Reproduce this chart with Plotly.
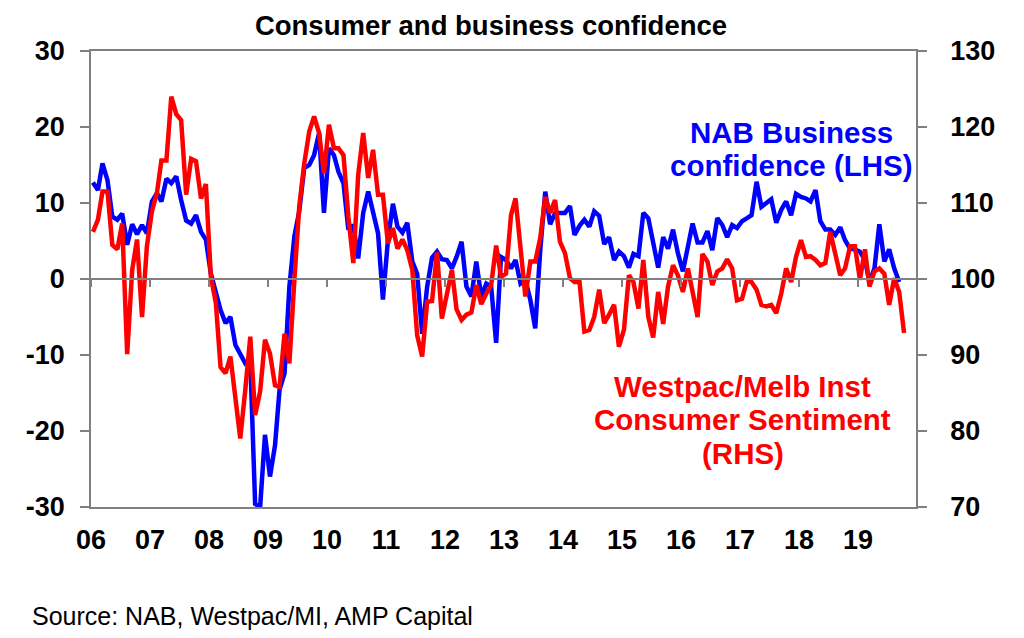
import pandas as pd
import plotly.graph_objects as go

# NAB business confidence (LHS), monthly Jan 2006 - Sep 2019
nab_conf = [
    12.7, 11.7, 15.2, 13.0, 8.2, 7.8, 8.6, 4.5, 7.2, 5.9, 7.1, 6.0,          # 2006
    10.2, 11.3, 10.2, 13.2, 12.6, 13.5, 10.4, 7.7, 7.3, 8.4, 6.2, 5.2,       # 2007
    0.7, -1.9, -4.1, -5.8, -5.0, -8.7, -10.0, -11.1, -10.7, -29.6, -30.0, -20.5,  # 2008
    -26.0, -21.9, -14.6, -12.4, -1.0, 5.6, 8.9, 14.6, 15.0, 16.3, 19.2, 8.7,  # 2009
    17.2, 16.3, 14.1, 12.6, 6.5, 7.1, 2.7, 8.7, 11.5, 8.9, 6.0, -2.7,        # 2010
    5.1, 9.9, 6.9, 6.1, 7.4, 2.3, 0.7, -7.2, -1.0, 2.8, 3.6, 2.6,            # 2011
    2.5, 1.4, 2.9, 4.9, -1.0, -2.3, 2.3, -2.3, -0.6, -1.0, -8.4, 2.9,        # 2012
    2.5, 1.4, 2.5, -0.6, -0.1, -2.8, -6.5, 3.8, 11.5, 7.2, 8.7, 8.7,         # 2013
    8.7, 9.6, 5.8, 7.0, 7.8, 6.9, 8.9, 8.3, 4.6, 5.5, 2.5, 3.6,              # 2014
    3.0, 1.5, 3.3, 3.0, 8.7, 8.0, 4.5, 1.5, 5.5, 4.0, 6.5, 3.4,              # 2015
    1.0, 4.3, 7.3, 4.8, 4.8, 6.3, 3.8, 8.0, 7.1, 5.5, 7.1, 6.7,              # 2016
    7.6, 8.0, 8.4, 12.8, 9.5, 10.0, 10.5, 7.4, 9.1, 10.2, 8.4, 11.2,         # 2017
    10.8, 10.6, 10.2, 11.7, 7.6, 6.5, 6.5, 5.8, 6.8, 5.1, 4.0, 3.9,          # 2018
    3.6, 2.5, -0.4, 1.4, 7.2, 2.3, 3.9, 1.4, -0.4,                           # 2019
]

# Westpac/Melbourne Institute consumer sentiment index (RHS), Jan 2006 - Oct 2019
wbc_sent = [
    106.2, 107.8, 111.5, 111.5, 104.5, 103.9, 107.3, 90.1, 101.2, 105.2, 95.0, 104.3,
    108.9, 111.3, 115.6, 115.6, 124.0, 121.7, 120.9, 111.1, 115.8, 115.5, 110.6, 112.5,
    100.3, 96.8, 88.4, 87.6, 89.8, 84.5, 79.0, 85.4, 92.4, 82.1, 85.2, 92.0,
    90.2, 86.0, 85.8, 92.8, 88.9, 99.9, 109.5, 115.2, 119.4, 121.4, 119.2, 113.9,
    120.3, 117.2, 117.2, 116.3, 108.2, 102.1, 113.7, 119.2, 113.3, 117.0, 111.1, 111.1,
    104.7, 106.7, 104.0, 105.2, 103.8, 101.2, 92.6, 89.8, 97.0, 97.1, 103.5, 94.8,
    97.7, 101.2, 96.0, 94.6, 95.3, 95.6, 99.2, 96.7, 98.1, 99.2, 104.4, 100.3,
    100.7, 108.4, 110.6, 104.3, 97.7, 102.3, 102.3, 105.4, 110.8, 108.7, 110.4, 104.9,
    103.4, 100.1, 99.6, 99.6, 93.1, 93.3, 95.0, 98.6, 94.2, 95.3, 96.6, 91.1,
    93.3, 100.5, 99.6, 96.1, 102.5, 95.0, 92.3, 98.3, 94.1, 99.0, 101.8, 100.5,
    98.3, 101.4, 98.5, 95.0, 103.3, 102.3, 99.2, 101.0, 101.4, 102.6, 101.4, 97.2,
    97.4, 99.8, 99.6, 98.6, 96.6, 96.4, 96.6, 95.5, 98.1, 101.4, 99.6, 102.9,
    105.1, 102.9, 103.0, 102.5, 101.8, 102.1, 106.2, 103.6, 100.5, 101.4, 104.3, 104.3,
    99.9, 103.9, 99.0, 101.0, 101.4, 100.7, 96.6, 100.1, 98.3, 92.9,
]

year_labels = ["06", "07", "08", "09", "10", "11", "12", "13", "14", "15", "16", "17", "18", "19"]
lhs_ticks = [-30, -20, -10, 0, 10, 20, 30]
lhs_labels = ["-30", "-20", "-10", "0", "10", "20", "30"]
rhs_ticks = [70, 80, 90, 100, 110, 120, 130]

nab_label = ["NAB Business", "confidence (LHS)"]
wbc_label = ["Westpac/Melb Inst", "Consumer Sentiment", "(RHS)"]

nab_dates = pd.date_range("2006-01-01", periods=len(nab_conf), freq="MS") + pd.Timedelta(days=12)
wbc_dates = pd.date_range("2006-01-01", periods=len(wbc_sent), freq="MS") + pd.Timedelta(days=12)
year_ticks = pd.date_range("2006-01-01", periods=len(year_labels), freq="YS")
x_range = ["2006-01-01", "2019-12-26"]

FONT = "Arial, Liberation Sans, sans-serif"
AXIS_GREY = "#808080"
BLUE = "#0000ff"
RED = "#ff0000"
tick_font = dict(size=27, family=FONT, weight="bold", color="black")

fig = go.Figure()
fig.add_trace(go.Scatter(x=nab_dates, y=nab_conf, mode="lines", name="NAB",
                         line=dict(color=BLUE, width=4.5), xaxis="x", yaxis="y"))
fig.add_trace(go.Scatter(x=wbc_dates, y=wbc_sent, mode="lines", name="Westpac",
                         line=dict(color=RED, width=4.5), xaxis="x2", yaxis="y2"))

# page body adds an 8px margin, so the figure is 8px smaller than the window
fig.update_layout(
    template="none",
    width=1016, height=630,
    margin=dict(l=83, r=108, t=43, b=131, autoexpand=False),
    paper_bgcolor="white", plot_bgcolor="white",
    showlegend=False,
    font=dict(family=FONT, color="black"),
    title=dict(text="<b>Consumer and business confidence</b>", x=0.4754, xanchor="center",
               y=0.973, yanchor="middle", font=dict(size=27.5, family=FONT, color="black")),
    # bottom axis: year labels plus the top/bottom frame lines
    xaxis=dict(type="date", range=x_range, tickvals=year_ticks, ticktext=year_labels,
               ticks="", showgrid=False, zeroline=False, showline=True, mirror=True,
               linecolor=AXIS_GREY, linewidth=1.5, ticklabelstandoff=8,
               automargin=False, tickfont=tick_font),
    # axis through zero carrying the year tick marks
    xaxis2=dict(type="date", range=x_range, overlaying="x", anchor="free", position=0.5,
                tickvals=year_ticks, showticklabels=False, ticks="outside", ticklen=7,
                tickcolor=AXIS_GREY, tickwidth=1.5, showgrid=False, zeroline=False,
                showline=True, linecolor=AXIS_GREY, linewidth=1.5, automargin=False),
    yaxis=dict(range=[-30, 30], tickvals=lhs_ticks, ticktext=lhs_labels, ticks="outside",
               ticklen=9, tickcolor=AXIS_GREY, tickwidth=1.5, showgrid=False,
               zeroline=False, showline=True, linecolor=AXIS_GREY, linewidth=1.5,
               ticklabelstandoff=10, automargin=False, tickfont=tick_font),
    yaxis2=dict(range=[70, 130], tickvals=rhs_ticks, overlaying="y", side="right",
                anchor="x2", ticks="outside", ticklen=9, tickcolor=AXIS_GREY, tickwidth=1.5,
                showgrid=False, zeroline=False, showline=True, linecolor=AXIS_GREY,
                linewidth=1.5, ticklabelstandoff=18, automargin=False, tickfont=tick_font),
)

# series labels, one annotation per line to match the tight line spacing
for text, ypos in zip(nab_label, [0.822, 0.748]):
    fig.add_annotation(text=f"<b>{text}</b>", xref="paper", yref="paper", x=0.8485, y=ypos,
                       xanchor="center", yanchor="middle", showarrow=False,
                       font=dict(size=29.5, family=FONT, color=BLUE))
for text, ypos in zip(wbc_label, [0.265, 0.191, 0.118]):
    fig.add_annotation(text=f"<b>{text}</b>", xref="paper", yref="paper", x=0.790, y=ypos,
                       xanchor="center", yanchor="middle", showarrow=False,
                       font=dict(size=29.5, family=FONT, color=RED))

fig.add_annotation(text="Source: NAB, Westpac/MI, AMP Capital", xref="paper", yref="paper",
                   x=-0.074, y=-0.239, xanchor="left", yanchor="middle", showarrow=False,
                   font=dict(size=25, family=FONT, color="black"))

fig.write_html("out.html")
